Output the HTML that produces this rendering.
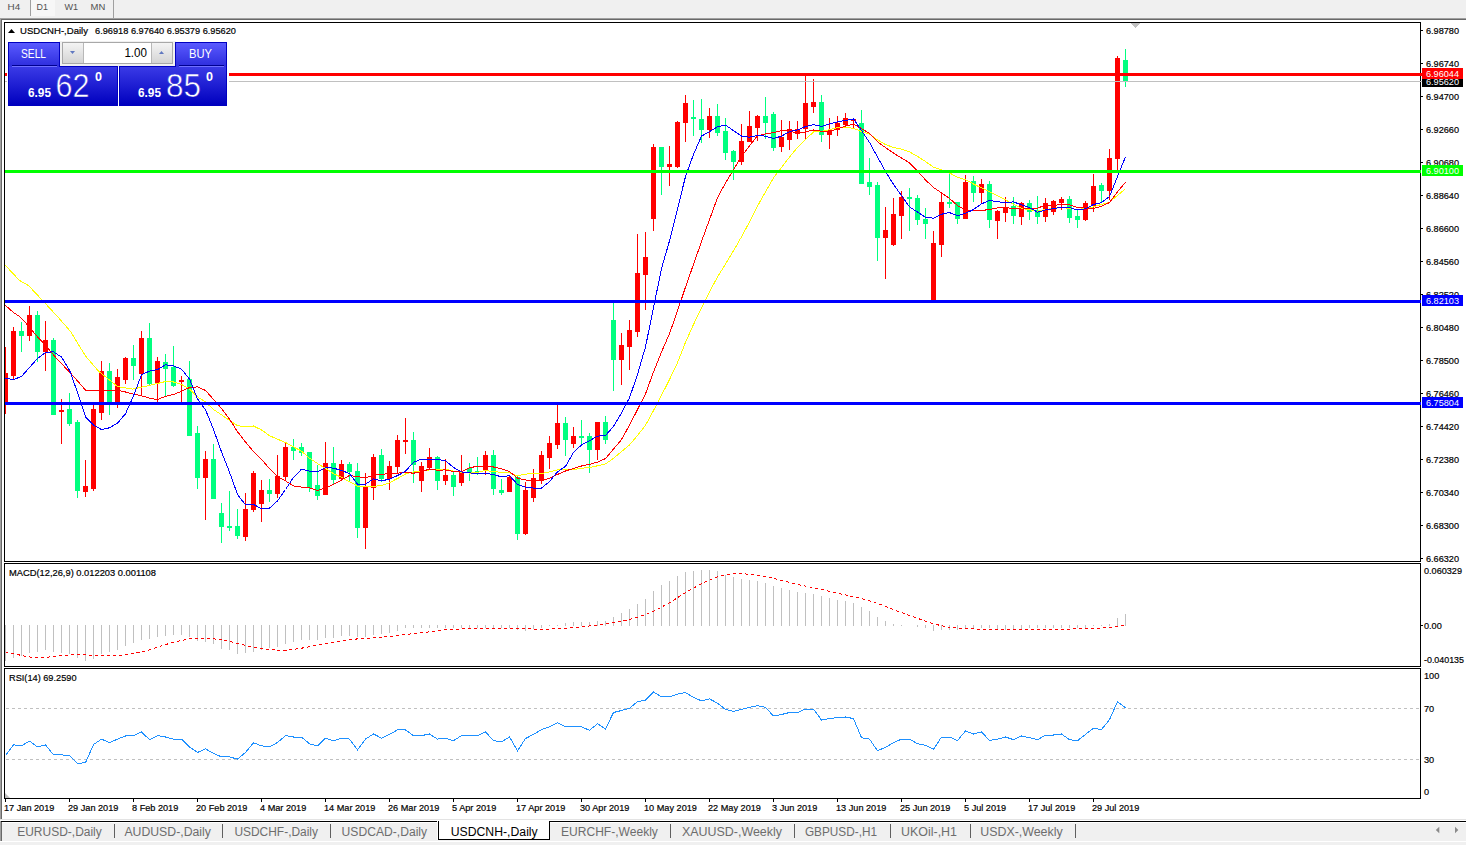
<!DOCTYPE html>
<html><head><meta charset="utf-8"><style>
html,body{margin:0;padding:0;width:1466px;height:845px;overflow:hidden;background:#F0F0F0}
svg text{font-family:'Liberation Sans', sans-serif}
</style></head><body>
<svg width="1466" height="845" viewBox="0 0 1466 845" style="display:block;font-family:'Liberation Sans', sans-serif">
<rect x="0" y="0" width="1466" height="18" fill="#F0F0F0" />
<rect x="0" y="18" width="1466" height="1" fill="#A0A0A0" />
<rect x="1" y="19" width="1465" height="1" fill="#696969" />
<rect x="0" y="18" width="1" height="801" fill="#A0A0A0" />
<rect x="1" y="19" width="1" height="800" fill="#696969" />
<rect x="2" y="20" width="1464" height="799" fill="#FFFFFF" />
<rect x="30" y="0" width="1" height="16" fill="#A0A0A0" />
<rect x="31" y="0" width="24" height="16" fill="#F7F7F7" />
<rect x="113" y="0" width="1" height="18" fill="#A0A0A0" />
<text x="7.6" y="10" font-size="9.5" fill="#505050" text-anchor="start" font-weight="normal" textLength="12.6" lengthAdjust="spacingAndGlyphs" >H4</text>
<text x="36.6" y="10" font-size="9.5" fill="#505050" text-anchor="start" font-weight="normal" textLength="11.4" lengthAdjust="spacingAndGlyphs" >D1</text>
<text x="64.4" y="10" font-size="9.5" fill="#505050" text-anchor="start" font-weight="normal" textLength="13.6" lengthAdjust="spacingAndGlyphs" >W1</text>
<text x="90.6" y="10" font-size="9.5" fill="#505050" text-anchor="start" font-weight="normal" textLength="14.7" lengthAdjust="spacingAndGlyphs" >MN</text>
<rect x="4" y="22" width="1417" height="1" fill="#000" />
<rect x="4" y="561" width="1417" height="1" fill="#000" />
<rect x="4" y="22" width="1" height="540" fill="#000" />
<rect x="1420" y="22" width="1" height="540" fill="#000" />
<rect x="4" y="563" width="1417" height="1" fill="#000" />
<rect x="4" y="666" width="1417" height="1" fill="#000" />
<rect x="4" y="563" width="1" height="104" fill="#000" />
<rect x="1420" y="563" width="1" height="104" fill="#000" />
<rect x="4" y="668" width="1417" height="1" fill="#000" />
<rect x="4" y="798" width="1417" height="1" fill="#000" />
<rect x="4" y="668" width="1" height="131" fill="#000" />
<rect x="1420" y="668" width="1" height="131" fill="#000" />
<g shape-rendering="crispEdges">
<rect x="1421" y="30" width="2" height="1" fill="#000" />
<rect x="1421" y="63" width="2" height="1" fill="#000" />
<rect x="1421" y="96" width="2" height="1" fill="#000" />
<rect x="1421" y="129" width="2" height="1" fill="#000" />
<rect x="1421" y="162" width="2" height="1" fill="#000" />
<rect x="1421" y="195" width="2" height="1" fill="#000" />
<rect x="1421" y="228" width="2" height="1" fill="#000" />
<rect x="1421" y="261" width="2" height="1" fill="#000" />
<rect x="1421" y="294" width="2" height="1" fill="#000" />
<rect x="1421" y="327" width="2" height="1" fill="#000" />
<rect x="1421" y="360" width="2" height="1" fill="#000" />
<rect x="1421" y="393" width="2" height="1" fill="#000" />
<rect x="1421" y="426" width="2" height="1" fill="#000" />
<rect x="1421" y="459" width="2" height="1" fill="#000" />
<rect x="1421" y="492" width="2" height="1" fill="#000" />
<rect x="1421" y="525" width="2" height="1" fill="#000" />
<rect x="1421" y="558" width="2" height="1" fill="#000" />
<text x="1426" y="34" font-size="9.75" fill="#000" text-anchor="start" font-weight="normal" textLength="33" lengthAdjust="spacingAndGlyphs"  stroke="#000" stroke-width="0.2">6.98780</text>
<text x="1426" y="67" font-size="9.75" fill="#000" text-anchor="start" font-weight="normal" textLength="33" lengthAdjust="spacingAndGlyphs"  stroke="#000" stroke-width="0.2">6.96740</text>
<text x="1426" y="100" font-size="9.75" fill="#000" text-anchor="start" font-weight="normal" textLength="33" lengthAdjust="spacingAndGlyphs"  stroke="#000" stroke-width="0.2">6.94700</text>
<text x="1426" y="133" font-size="9.75" fill="#000" text-anchor="start" font-weight="normal" textLength="33" lengthAdjust="spacingAndGlyphs"  stroke="#000" stroke-width="0.2">6.92660</text>
<text x="1426" y="166" font-size="9.75" fill="#000" text-anchor="start" font-weight="normal" textLength="33" lengthAdjust="spacingAndGlyphs"  stroke="#000" stroke-width="0.2">6.90680</text>
<text x="1426" y="199" font-size="9.75" fill="#000" text-anchor="start" font-weight="normal" textLength="33" lengthAdjust="spacingAndGlyphs"  stroke="#000" stroke-width="0.2">6.88640</text>
<text x="1426" y="232" font-size="9.75" fill="#000" text-anchor="start" font-weight="normal" textLength="33" lengthAdjust="spacingAndGlyphs"  stroke="#000" stroke-width="0.2">6.86600</text>
<text x="1426" y="265" font-size="9.75" fill="#000" text-anchor="start" font-weight="normal" textLength="33" lengthAdjust="spacingAndGlyphs"  stroke="#000" stroke-width="0.2">6.84560</text>
<text x="1426" y="298" font-size="9.75" fill="#000" text-anchor="start" font-weight="normal" textLength="33" lengthAdjust="spacingAndGlyphs"  stroke="#000" stroke-width="0.2">6.82520</text>
<text x="1426" y="331" font-size="9.75" fill="#000" text-anchor="start" font-weight="normal" textLength="33" lengthAdjust="spacingAndGlyphs"  stroke="#000" stroke-width="0.2">6.80480</text>
<text x="1426" y="364" font-size="9.75" fill="#000" text-anchor="start" font-weight="normal" textLength="33" lengthAdjust="spacingAndGlyphs"  stroke="#000" stroke-width="0.2">6.78500</text>
<text x="1426" y="397" font-size="9.75" fill="#000" text-anchor="start" font-weight="normal" textLength="33" lengthAdjust="spacingAndGlyphs"  stroke="#000" stroke-width="0.2">6.76460</text>
<text x="1426" y="430" font-size="9.75" fill="#000" text-anchor="start" font-weight="normal" textLength="33" lengthAdjust="spacingAndGlyphs"  stroke="#000" stroke-width="0.2">6.74420</text>
<text x="1426" y="463" font-size="9.75" fill="#000" text-anchor="start" font-weight="normal" textLength="33" lengthAdjust="spacingAndGlyphs"  stroke="#000" stroke-width="0.2">6.72380</text>
<text x="1426" y="496" font-size="9.75" fill="#000" text-anchor="start" font-weight="normal" textLength="33" lengthAdjust="spacingAndGlyphs"  stroke="#000" stroke-width="0.2">6.70340</text>
<text x="1426" y="529" font-size="9.75" fill="#000" text-anchor="start" font-weight="normal" textLength="33" lengthAdjust="spacingAndGlyphs"  stroke="#000" stroke-width="0.2">6.68300</text>
<text x="1426" y="562" font-size="9.75" fill="#000" text-anchor="start" font-weight="normal" textLength="33" lengthAdjust="spacingAndGlyphs"  stroke="#000" stroke-width="0.2">6.66320</text>
<rect x="5" y="347" width="1" height="67" fill="#FF0000" />
<rect x="5" y="373" width="3" height="30" fill="#FF0000" />
<rect x="13" y="327" width="1" height="52" fill="#FF0000" />
<rect x="11" y="331" width="5" height="45" fill="#FF0000" />
<rect x="21" y="322" width="1" height="30" fill="#00FF7F" />
<rect x="19" y="331" width="5" height="5" fill="#00FF7F" />
<rect x="29" y="306" width="1" height="35" fill="#FF0000" />
<rect x="27" y="315" width="5" height="21" fill="#FF0000" />
<rect x="37" y="311" width="1" height="51" fill="#00FF7F" />
<rect x="35" y="315" width="5" height="37" fill="#00FF7F" />
<rect x="45" y="321" width="1" height="50" fill="#FF0000" />
<rect x="43" y="340" width="5" height="12" fill="#FF0000" />
<rect x="53" y="338" width="1" height="77" fill="#00FF7F" />
<rect x="51" y="340" width="5" height="75" fill="#00FF7F" />
<rect x="61" y="399" width="1" height="45" fill="#FF0000" />
<rect x="59" y="410" width="5" height="2" fill="#FF0000" />
<rect x="69" y="393" width="1" height="33" fill="#00FF7F" />
<rect x="67" y="409" width="5" height="15" fill="#00FF7F" />
<rect x="77" y="420" width="1" height="78" fill="#00FF7F" />
<rect x="75" y="422" width="5" height="69" fill="#00FF7F" />
<rect x="85" y="460" width="1" height="37" fill="#FF0000" />
<rect x="83" y="486" width="5" height="6" fill="#FF0000" />
<rect x="93" y="404" width="1" height="87" fill="#FF0000" />
<rect x="91" y="409" width="5" height="80" fill="#FF0000" />
<rect x="101" y="361" width="1" height="59" fill="#FF0000" />
<rect x="99" y="371" width="5" height="42" fill="#FF0000" />
<rect x="109" y="363" width="1" height="52" fill="#00FF7F" />
<rect x="107" y="371" width="5" height="32" fill="#00FF7F" />
<rect x="117" y="369" width="1" height="39" fill="#FF0000" />
<rect x="115" y="377" width="5" height="26" fill="#FF0000" />
<rect x="125" y="357" width="1" height="27" fill="#FF0000" />
<rect x="123" y="358" width="5" height="22" fill="#FF0000" />
<rect x="133" y="345" width="1" height="35" fill="#00FF7F" />
<rect x="131" y="358" width="5" height="8" fill="#00FF7F" />
<rect x="141" y="331" width="1" height="65" fill="#FF0000" />
<rect x="139" y="338" width="5" height="36" fill="#FF0000" />
<rect x="149" y="323" width="1" height="62" fill="#00FF7F" />
<rect x="147" y="338" width="5" height="46" fill="#00FF7F" />
<rect x="157" y="357" width="1" height="45" fill="#FF0000" />
<rect x="155" y="361" width="5" height="23" fill="#FF0000" />
<rect x="165" y="354" width="1" height="42" fill="#00FF7F" />
<rect x="163" y="362" width="5" height="7" fill="#00FF7F" />
<rect x="173" y="346" width="1" height="41" fill="#00FF7F" />
<rect x="171" y="367" width="5" height="19" fill="#00FF7F" />
<rect x="181" y="376" width="1" height="27" fill="#FF0000" />
<rect x="179" y="380" width="5" height="2" fill="#FF0000" />
<rect x="189" y="361" width="1" height="75" fill="#00FF7F" />
<rect x="187" y="379" width="5" height="57" fill="#00FF7F" />
<rect x="197" y="426" width="1" height="63" fill="#00FF7F" />
<rect x="195" y="433" width="5" height="45" fill="#00FF7F" />
<rect x="205" y="451" width="1" height="69" fill="#FF0000" />
<rect x="203" y="459" width="5" height="19" fill="#FF0000" />
<rect x="213" y="444" width="1" height="55" fill="#00FF7F" />
<rect x="211" y="459" width="5" height="40" fill="#00FF7F" />
<rect x="221" y="503" width="1" height="40" fill="#00FF7F" />
<rect x="219" y="513" width="5" height="14" fill="#00FF7F" />
<rect x="229" y="491" width="1" height="40" fill="#00FF7F" />
<rect x="227" y="526" width="5" height="2" fill="#00FF7F" />
<rect x="237" y="509" width="1" height="30" fill="#00FF7F" />
<rect x="235" y="526" width="5" height="10" fill="#00FF7F" />
<rect x="245" y="493" width="1" height="48" fill="#FF0000" />
<rect x="243" y="509" width="5" height="28" fill="#FF0000" />
<rect x="253" y="471" width="1" height="41" fill="#FF0000" />
<rect x="251" y="473" width="5" height="37" fill="#FF0000" />
<rect x="261" y="480" width="1" height="42" fill="#FF0000" />
<rect x="259" y="490" width="5" height="14" fill="#FF0000" />
<rect x="269" y="479" width="1" height="23" fill="#00FF7F" />
<rect x="267" y="490" width="5" height="4" fill="#00FF7F" />
<rect x="277" y="455" width="1" height="43" fill="#FF0000" />
<rect x="275" y="476" width="5" height="18" fill="#FF0000" />
<rect x="285" y="443" width="1" height="38" fill="#FF0000" />
<rect x="283" y="447" width="5" height="30" fill="#FF0000" />
<rect x="293" y="439" width="1" height="21" fill="#00FF7F" />
<rect x="291" y="447" width="5" height="4" fill="#00FF7F" />
<rect x="301" y="443" width="1" height="13" fill="#00FF7F" />
<rect x="299" y="447" width="5" height="6" fill="#00FF7F" />
<rect x="309" y="452" width="1" height="40" fill="#00FF7F" />
<rect x="307" y="452" width="5" height="36" fill="#00FF7F" />
<rect x="317" y="465" width="1" height="35" fill="#00FF7F" />
<rect x="315" y="485" width="5" height="11" fill="#00FF7F" />
<rect x="325" y="442" width="1" height="53" fill="#FF0000" />
<rect x="323" y="463" width="5" height="32" fill="#FF0000" />
<rect x="333" y="447" width="1" height="37" fill="#00FF7F" />
<rect x="331" y="463" width="5" height="17" fill="#00FF7F" />
<rect x="341" y="460" width="1" height="21" fill="#FF0000" />
<rect x="339" y="464" width="5" height="15" fill="#FF0000" />
<rect x="349" y="462" width="1" height="19" fill="#00FF7F" />
<rect x="347" y="464" width="5" height="8" fill="#00FF7F" />
<rect x="357" y="463" width="1" height="75" fill="#00FF7F" />
<rect x="355" y="471" width="5" height="57" fill="#00FF7F" />
<rect x="365" y="473" width="1" height="76" fill="#FF0000" />
<rect x="363" y="487" width="5" height="41" fill="#FF0000" />
<rect x="373" y="454" width="1" height="46" fill="#FF0000" />
<rect x="371" y="457" width="5" height="31" fill="#FF0000" />
<rect x="381" y="449" width="1" height="33" fill="#00FF7F" />
<rect x="379" y="455" width="5" height="24" fill="#00FF7F" />
<rect x="389" y="461" width="1" height="29" fill="#FF0000" />
<rect x="387" y="466" width="5" height="13" fill="#FF0000" />
<rect x="397" y="435" width="1" height="39" fill="#FF0000" />
<rect x="395" y="440" width="5" height="27" fill="#FF0000" />
<rect x="405" y="418" width="1" height="36" fill="#FF0000" />
<rect x="403" y="440" width="5" height="2" fill="#FF0000" />
<rect x="413" y="432" width="1" height="51" fill="#00FF7F" />
<rect x="411" y="440" width="5" height="25" fill="#00FF7F" />
<rect x="421" y="462" width="1" height="30" fill="#FF0000" />
<rect x="419" y="466" width="5" height="15" fill="#FF0000" />
<rect x="429" y="448" width="1" height="21" fill="#FF0000" />
<rect x="427" y="457" width="5" height="11" fill="#FF0000" />
<rect x="437" y="456" width="1" height="34" fill="#00FF7F" />
<rect x="435" y="457" width="5" height="24" fill="#00FF7F" />
<rect x="445" y="459" width="1" height="26" fill="#FF0000" />
<rect x="443" y="475" width="5" height="6" fill="#FF0000" />
<rect x="453" y="472" width="1" height="24" fill="#00FF7F" />
<rect x="451" y="475" width="5" height="12" fill="#00FF7F" />
<rect x="461" y="455" width="1" height="31" fill="#FF0000" />
<rect x="459" y="472" width="5" height="11" fill="#FF0000" />
<rect x="469" y="463" width="1" height="18" fill="#00FF7F" />
<rect x="467" y="468" width="5" height="4" fill="#00FF7F" />
<rect x="477" y="457" width="1" height="18" fill="#00FF7F" />
<rect x="475" y="471" width="5" height="1" fill="#00FF7F" />
<rect x="485" y="451" width="1" height="24" fill="#FF0000" />
<rect x="483" y="455" width="5" height="16" fill="#FF0000" />
<rect x="493" y="450" width="1" height="45" fill="#00FF7F" />
<rect x="491" y="455" width="5" height="34" fill="#00FF7F" />
<rect x="501" y="479" width="1" height="16" fill="#00FF7F" />
<rect x="499" y="490" width="5" height="3" fill="#00FF7F" />
<rect x="509" y="476" width="1" height="16" fill="#FF0000" />
<rect x="507" y="477" width="5" height="15" fill="#FF0000" />
<rect x="517" y="476" width="1" height="64" fill="#00FF7F" />
<rect x="515" y="477" width="5" height="57" fill="#00FF7F" />
<rect x="525" y="482" width="1" height="53" fill="#FF0000" />
<rect x="523" y="490" width="5" height="44" fill="#FF0000" />
<rect x="533" y="469" width="1" height="33" fill="#FF0000" />
<rect x="531" y="478" width="5" height="20" fill="#FF0000" />
<rect x="541" y="451" width="1" height="33" fill="#FF0000" />
<rect x="539" y="455" width="5" height="25" fill="#FF0000" />
<rect x="549" y="436" width="1" height="33" fill="#FF0000" />
<rect x="547" y="443" width="5" height="15" fill="#FF0000" />
<rect x="557" y="405" width="1" height="44" fill="#FF0000" />
<rect x="555" y="423" width="5" height="22" fill="#FF0000" />
<rect x="565" y="417" width="1" height="39" fill="#00FF7F" />
<rect x="563" y="423" width="5" height="17" fill="#00FF7F" />
<rect x="573" y="427" width="1" height="21" fill="#FF0000" />
<rect x="571" y="436" width="5" height="8" fill="#FF0000" />
<rect x="581" y="420" width="1" height="24" fill="#00FF7F" />
<rect x="579" y="436" width="5" height="2" fill="#00FF7F" />
<rect x="589" y="433" width="1" height="40" fill="#00FF7F" />
<rect x="587" y="436" width="5" height="14" fill="#00FF7F" />
<rect x="597" y="422" width="1" height="38" fill="#FF0000" />
<rect x="595" y="422" width="5" height="28" fill="#FF0000" />
<rect x="605" y="416" width="1" height="28" fill="#00FF7F" />
<rect x="603" y="422" width="5" height="18" fill="#00FF7F" />
<rect x="613" y="302" width="1" height="89" fill="#00FF7F" />
<rect x="611" y="320" width="5" height="40" fill="#00FF7F" />
<rect x="621" y="333" width="1" height="52" fill="#FF0000" />
<rect x="619" y="345" width="5" height="15" fill="#FF0000" />
<rect x="629" y="320" width="1" height="50" fill="#FF0000" />
<rect x="627" y="330" width="5" height="17" fill="#FF0000" />
<rect x="637" y="234" width="1" height="103" fill="#FF0000" />
<rect x="635" y="273" width="5" height="59" fill="#FF0000" />
<rect x="645" y="232" width="1" height="78" fill="#FF0000" />
<rect x="643" y="257" width="5" height="18" fill="#FF0000" />
<rect x="653" y="144" width="1" height="87" fill="#FF0000" />
<rect x="651" y="147" width="5" height="72" fill="#FF0000" />
<rect x="661" y="147" width="1" height="48" fill="#00FF7F" />
<rect x="659" y="147" width="5" height="20" fill="#00FF7F" />
<rect x="669" y="146" width="1" height="40" fill="#FF0000" />
<rect x="667" y="164" width="5" height="3" fill="#FF0000" />
<rect x="677" y="121" width="1" height="47" fill="#FF0000" />
<rect x="675" y="122" width="5" height="45" fill="#FF0000" />
<rect x="685" y="95" width="1" height="47" fill="#FF0000" />
<rect x="683" y="103" width="5" height="20" fill="#FF0000" />
<rect x="693" y="100" width="1" height="36" fill="#00FF7F" />
<rect x="691" y="117" width="5" height="2" fill="#00FF7F" />
<rect x="701" y="99" width="1" height="44" fill="#00FF7F" />
<rect x="699" y="119" width="5" height="11" fill="#00FF7F" />
<rect x="709" y="108" width="1" height="30" fill="#FF0000" />
<rect x="707" y="116" width="5" height="14" fill="#FF0000" />
<rect x="717" y="104" width="1" height="32" fill="#00FF7F" />
<rect x="715" y="116" width="5" height="17" fill="#00FF7F" />
<rect x="725" y="118" width="1" height="42" fill="#00FF7F" />
<rect x="723" y="131" width="5" height="22" fill="#00FF7F" />
<rect x="733" y="150" width="1" height="30" fill="#00FF7F" />
<rect x="731" y="151" width="5" height="11" fill="#00FF7F" />
<rect x="741" y="124" width="1" height="41" fill="#FF0000" />
<rect x="739" y="141" width="5" height="21" fill="#FF0000" />
<rect x="749" y="111" width="1" height="31" fill="#FF0000" />
<rect x="747" y="126" width="5" height="16" fill="#FF0000" />
<rect x="757" y="115" width="1" height="26" fill="#FF0000" />
<rect x="755" y="116" width="5" height="12" fill="#FF0000" />
<rect x="765" y="97" width="1" height="42" fill="#00FF7F" />
<rect x="763" y="116" width="5" height="7" fill="#00FF7F" />
<rect x="773" y="112" width="1" height="39" fill="#00FF7F" />
<rect x="771" y="114" width="5" height="34" fill="#00FF7F" />
<rect x="781" y="120" width="1" height="32" fill="#FF0000" />
<rect x="779" y="137" width="5" height="10" fill="#FF0000" />
<rect x="789" y="121" width="1" height="29" fill="#FF0000" />
<rect x="787" y="129" width="5" height="11" fill="#FF0000" />
<rect x="797" y="121" width="1" height="18" fill="#FF0000" />
<rect x="795" y="129" width="5" height="5" fill="#FF0000" />
<rect x="805" y="76" width="1" height="64" fill="#FF0000" />
<rect x="803" y="103" width="5" height="26" fill="#FF0000" />
<rect x="813" y="79" width="1" height="34" fill="#FF0000" />
<rect x="811" y="102" width="5" height="5" fill="#FF0000" />
<rect x="821" y="95" width="1" height="47" fill="#00FF7F" />
<rect x="819" y="102" width="5" height="33" fill="#00FF7F" />
<rect x="829" y="118" width="1" height="31" fill="#FF0000" />
<rect x="827" y="130" width="5" height="5" fill="#FF0000" />
<rect x="837" y="116" width="1" height="20" fill="#FF0000" />
<rect x="835" y="123" width="5" height="7" fill="#FF0000" />
<rect x="845" y="113" width="1" height="14" fill="#FF0000" />
<rect x="843" y="118" width="5" height="7" fill="#FF0000" />
<rect x="853" y="118" width="1" height="11" fill="#FF0000" />
<rect x="851" y="119" width="5" height="2" fill="#FF0000" />
<rect x="861" y="110" width="1" height="74" fill="#00FF7F" />
<rect x="859" y="123" width="5" height="61" fill="#00FF7F" />
<rect x="869" y="158" width="1" height="37" fill="#00FF7F" />
<rect x="867" y="182" width="5" height="5" fill="#00FF7F" />
<rect x="877" y="182" width="1" height="79" fill="#00FF7F" />
<rect x="875" y="185" width="5" height="53" fill="#00FF7F" />
<rect x="885" y="207" width="1" height="72" fill="#FF0000" />
<rect x="883" y="230" width="5" height="8" fill="#FF0000" />
<rect x="893" y="198" width="1" height="48" fill="#FF0000" />
<rect x="891" y="214" width="5" height="31" fill="#FF0000" />
<rect x="901" y="191" width="1" height="48" fill="#FF0000" />
<rect x="899" y="197" width="5" height="19" fill="#FF0000" />
<rect x="909" y="188" width="1" height="43" fill="#00FF7F" />
<rect x="907" y="197" width="5" height="2" fill="#00FF7F" />
<rect x="917" y="195" width="1" height="30" fill="#00FF7F" />
<rect x="915" y="198" width="5" height="22" fill="#00FF7F" />
<rect x="925" y="208" width="1" height="31" fill="#00FF7F" />
<rect x="923" y="219" width="5" height="5" fill="#00FF7F" />
<rect x="933" y="231" width="1" height="70" fill="#FF0000" />
<rect x="931" y="243" width="5" height="58" fill="#FF0000" />
<rect x="941" y="193" width="1" height="64" fill="#FF0000" />
<rect x="939" y="202" width="5" height="43" fill="#FF0000" />
<rect x="949" y="174" width="1" height="34" fill="#00FF7F" />
<rect x="947" y="202" width="5" height="2" fill="#00FF7F" />
<rect x="957" y="202" width="1" height="22" fill="#00FF7F" />
<rect x="955" y="202" width="5" height="17" fill="#00FF7F" />
<rect x="965" y="175" width="1" height="44" fill="#FF0000" />
<rect x="963" y="182" width="5" height="37" fill="#FF0000" />
<rect x="973" y="176" width="1" height="26" fill="#00FF7F" />
<rect x="971" y="181" width="5" height="12" fill="#00FF7F" />
<rect x="981" y="179" width="1" height="25" fill="#FF0000" />
<rect x="979" y="184" width="5" height="9" fill="#FF0000" />
<rect x="989" y="181" width="1" height="47" fill="#00FF7F" />
<rect x="987" y="184" width="5" height="36" fill="#00FF7F" />
<rect x="997" y="210" width="1" height="29" fill="#FF0000" />
<rect x="995" y="211" width="5" height="10" fill="#FF0000" />
<rect x="1005" y="197" width="1" height="25" fill="#FF0000" />
<rect x="1003" y="207" width="5" height="6" fill="#FF0000" />
<rect x="1013" y="197" width="1" height="27" fill="#00FF7F" />
<rect x="1011" y="206" width="5" height="10" fill="#00FF7F" />
<rect x="1021" y="202" width="1" height="23" fill="#FF0000" />
<rect x="1019" y="203" width="5" height="14" fill="#FF0000" />
<rect x="1029" y="200" width="1" height="20" fill="#00FF7F" />
<rect x="1027" y="203" width="5" height="9" fill="#00FF7F" />
<rect x="1037" y="196" width="1" height="28" fill="#00FF7F" />
<rect x="1035" y="210" width="5" height="7" fill="#00FF7F" />
<rect x="1045" y="198" width="1" height="24" fill="#FF0000" />
<rect x="1043" y="203" width="5" height="14" fill="#FF0000" />
<rect x="1053" y="200" width="1" height="15" fill="#FF0000" />
<rect x="1051" y="201" width="5" height="11" fill="#FF0000" />
<rect x="1061" y="197" width="1" height="13" fill="#FF0000" />
<rect x="1059" y="199" width="5" height="4" fill="#FF0000" />
<rect x="1069" y="196" width="1" height="27" fill="#00FF7F" />
<rect x="1067" y="199" width="5" height="19" fill="#00FF7F" />
<rect x="1077" y="209" width="1" height="19" fill="#00FF7F" />
<rect x="1075" y="216" width="5" height="4" fill="#00FF7F" />
<rect x="1085" y="201" width="1" height="20" fill="#FF0000" />
<rect x="1083" y="203" width="5" height="17" fill="#FF0000" />
<rect x="1093" y="174" width="1" height="38" fill="#FF0000" />
<rect x="1091" y="186" width="5" height="20" fill="#FF0000" />
<rect x="1101" y="183" width="1" height="20" fill="#00FF7F" />
<rect x="1099" y="185" width="5" height="6" fill="#00FF7F" />
<rect x="1109" y="149" width="1" height="51" fill="#FF0000" />
<rect x="1107" y="158" width="5" height="33" fill="#FF0000" />
<rect x="1117" y="56" width="1" height="115" fill="#FF0000" />
<rect x="1115" y="58" width="5" height="101" fill="#FF0000" />
<rect x="1125" y="49" width="1" height="38" fill="#00FF7F" />
<rect x="1123" y="60" width="5" height="22" fill="#00FF7F" />
</g>
<svg x="5" y="23" width="1415" height="538" overflow="hidden"><g transform="translate(-5,-23)">
<polyline points="5.5,265.5 19.5,280.5 28.5,285.5 42.5,300.5 57.5,316.5 70.5,331.5 85.5,356.0 98.5,371.1 117.5,386.5 132.5,389.1 144.5,386.5 157.5,383.5 165.5,381.5 173.5,382.0 181.5,384.4 189.5,389.1 197.5,396.8 205.5,402.0 213.5,409.5 221.5,414.8 229.5,420.4 237.5,425.7 245.5,426.6 253.5,426.0 261.5,429.9 269.5,435.7 277.5,439.2 285.5,442.5 293.5,446.9 301.5,451.1 309.5,458.2 317.5,463.5 325.5,468.4 333.5,473.6 341.5,477.4 349.5,481.7 357.5,486.1 365.5,486.6 373.5,486.5 381.5,485.5 389.5,482.7 397.5,478.5 405.5,474.0 413.5,471.9 421.5,471.5 429.5,470.0 437.5,469.4 445.5,469.3 453.5,471.2 461.5,472.2 469.5,473.1 477.5,472.4 485.5,470.5 493.5,471.6 501.5,472.3 509.5,472.9 517.5,475.8 525.5,474.1 533.5,473.6 541.5,473.5 549.5,471.9 557.5,469.8 565.5,469.8 573.5,469.6 581.5,468.3 589.5,467.5 597.5,465.8 605.5,463.9 613.5,458.4 621.5,451.6 629.5,444.9 637.5,435.5 645.5,425.3 653.5,410.6 661.5,395.3 669.5,379.6 677.5,362.7 685.5,342.3 693.5,324.5 701.5,307.9 709.5,291.8 717.5,277.0 725.5,264.1 733.5,250.8 741.5,236.8 749.5,222.0 757.5,206.1 765.5,191.8 773.5,177.9 781.5,167.4 789.5,157.1 797.5,147.5 805.5,139.4 813.5,132.0 821.5,131.4 829.5,129.7 837.5,127.7 845.5,127.5 853.5,128.3 861.5,131.4 869.5,134.1 877.5,139.9 885.5,144.5 893.5,147.5 901.5,149.2 909.5,151.9 917.5,156.4 925.5,161.5 933.5,167.2 941.5,169.8 949.5,173.0 957.5,177.2 965.5,179.7 973.5,184.0 981.5,187.9 989.5,191.9 997.5,195.8 1005.5,199.8 1013.5,204.4 1021.5,208.4 1029.5,209.7 1037.5,211.2 1045.5,209.5 1053.5,208.2 1061.5,207.5 1069.5,208.4 1077.5,209.4 1085.5,208.6 1093.5,206.9 1101.5,204.4 1109.5,202.3 1117.5,195.4 1125.5,188.8" fill="none" stroke="#FFFF00" stroke-width="1" shape-rendering="crispEdges"/>
<polyline points="5.5,305.5 13.5,312.5 19.5,316.5 25.5,322.5 34.5,333.5 45.5,345.5 57.5,359.5 70.5,373.0 85.5,390.0 98.5,390.0 117.5,390.1 125.5,392.0 133.5,394.1 141.5,395.8 149.5,398.1 157.5,399.6 165.5,396.3 173.5,394.5 181.5,391.4 189.5,387.5 197.5,386.9 205.5,390.4 213.5,399.5 221.5,408.4 229.5,419.1 237.5,431.7 245.5,442.0 253.5,451.6 261.5,459.3 269.5,468.7 277.5,476.4 285.5,480.9 293.5,485.9 301.5,487.1 309.5,487.8 317.5,490.4 325.5,487.9 333.5,484.5 341.5,480.0 349.5,475.4 357.5,476.7 365.5,477.7 373.5,475.4 381.5,474.3 389.5,473.6 397.5,473.1 405.5,472.4 413.5,473.2 421.5,471.7 429.5,469.0 437.5,470.2 445.5,469.9 453.5,471.5 461.5,471.6 469.5,467.6 477.5,466.4 485.5,466.3 493.5,467.0 501.5,468.9 509.5,471.5 517.5,478.1 525.5,480.0 533.5,480.9 541.5,480.7 549.5,478.1 557.5,474.4 565.5,471.0 573.5,468.4 581.5,466.0 589.5,464.4 597.5,462.1 605.5,458.6 613.5,449.1 621.5,439.6 629.5,425.1 637.5,409.6 645.5,393.9 653.5,371.9 661.5,352.1 669.5,333.6 677.5,310.9 685.5,287.1 693.5,264.4 701.5,241.5 709.5,219.6 717.5,197.7 725.5,182.9 733.5,169.8 741.5,156.3 749.5,145.8 757.5,135.7 765.5,133.9 773.5,132.6 781.5,130.6 789.5,131.1 797.5,133.0 805.5,131.9 813.5,130.0 821.5,131.3 829.5,131.1 837.5,129.1 845.5,126.0 853.5,124.4 861.5,128.5 869.5,133.5 877.5,141.7 885.5,147.6 893.5,153.1 901.5,158.0 909.5,162.9 917.5,171.2 925.5,179.9 933.5,187.6 941.5,192.8 949.5,198.5 957.5,205.6 965.5,210.1 973.5,210.8 981.5,210.6 989.5,209.4 997.5,208.0 1005.5,207.5 1013.5,208.8 1021.5,209.1 1029.5,208.6 1037.5,208.1 1045.5,205.2 1053.5,205.1 1061.5,204.9 1069.5,204.8 1077.5,207.4 1085.5,208.2 1093.5,208.4 1101.5,206.3 1109.5,202.5 1117.5,191.9 1125.5,182.3" fill="none" stroke="#FF0000" stroke-width="1" shape-rendering="crispEdges"/>
<polyline points="5.5,378.5 13.5,379.5 21.5,376.5 29.5,367.5 37.5,358.5 45.5,352.5 53.5,351.8 61.5,357.1 69.5,370.2 77.5,392.4 85.5,416.8 93.5,425.1 101.5,429.5 109.5,427.8 117.5,423.1 125.5,413.8 133.5,395.9 141.5,374.8 149.5,371.1 157.5,369.6 165.5,364.8 173.5,365.9 181.5,369.1 189.5,379.1 197.5,398.9 205.5,409.8 213.5,429.4 221.5,451.9 229.5,472.2 237.5,494.4 245.5,504.9 253.5,504.4 261.5,508.8 269.5,508.1 277.5,500.9 285.5,489.5 293.5,477.4 301.5,469.2 309.5,471.2 317.5,471.9 325.5,467.6 333.5,468.1 341.5,470.5 349.5,473.5 357.5,484.2 365.5,484.2 373.5,478.8 381.5,480.9 389.5,479.1 397.5,475.6 405.5,471.2 413.5,462.2 421.5,459.2 429.5,459.2 437.5,459.5 445.5,460.8 453.5,467.4 461.5,471.9 469.5,472.9 477.5,473.6 485.5,473.4 493.5,474.5 501.5,476.9 509.5,475.6 517.5,484.4 525.5,487.1 533.5,488.1 541.5,488.1 549.5,481.6 557.5,471.8 565.5,466.4 573.5,452.5 581.5,444.9 589.5,440.8 597.5,436.1 605.5,435.5 613.5,426.4 621.5,412.9 629.5,397.8 637.5,374.4 645.5,346.9 653.5,307.6 661.5,268.6 669.5,240.8 677.5,208.9 685.5,176.5 693.5,154.4 701.5,136.1 709.5,131.6 717.5,126.8 725.5,125.1 733.5,130.6 741.5,136.1 749.5,137.2 757.5,135.4 765.5,136.2 773.5,138.4 781.5,136.2 789.5,131.6 797.5,129.9 805.5,126.6 813.5,124.6 821.5,126.4 829.5,123.9 837.5,121.9 845.5,120.4 853.5,118.9 861.5,130.4 869.5,142.4 877.5,157.1 885.5,171.4 893.5,184.4 901.5,195.6 909.5,206.9 917.5,212.1 925.5,217.4 933.5,218.2 941.5,214.2 949.5,212.6 957.5,215.6 965.5,213.4 973.5,209.5 981.5,203.9 989.5,200.5 997.5,201.8 1005.5,202.4 1013.5,201.9 1021.5,204.9 1029.5,207.6 1037.5,212.2 1045.5,209.9 1053.5,208.5 1061.5,207.4 1069.5,207.6 1077.5,209.9 1085.5,208.8 1093.5,204.5 1101.5,202.6 1109.5,196.5 1117.5,176.4 1125.5,156.9" fill="none" stroke="#0000FF" stroke-width="1" shape-rendering="crispEdges"/>
</g></svg>
<g shape-rendering="crispEdges">
<rect x="5" y="81" width="1417" height="1" fill="#C0C0C0" />
<rect x="5" y="73" width="1417" height="3" fill="#FF0000" />
<rect x="5" y="170" width="1416" height="3" fill="#00FF00" />
<rect x="5" y="300" width="1416" height="3" fill="#0000FF" />
<rect x="5" y="402" width="1416" height="3" fill="#0000FF" />
<rect x="1422" y="76" width="41" height="11" fill="#000" />
<text x="1426" y="85" font-size="9.75" fill="#FFF" text-anchor="start" font-weight="normal" textLength="33" lengthAdjust="spacingAndGlyphs" >6.95620</text>
<rect x="1422" y="68" width="41" height="11" fill="#FF0000" />
<text x="1426" y="77" font-size="9.75" fill="#FFF" text-anchor="start" font-weight="normal" textLength="33" lengthAdjust="spacingAndGlyphs" >6.96044</text>
<rect x="1422" y="165" width="41" height="11" fill="#00FF00" />
<text x="1426" y="174" font-size="9.75" fill="#FFF" text-anchor="start" font-weight="normal" textLength="33" lengthAdjust="spacingAndGlyphs" >6.90100</text>
<rect x="1422" y="295" width="41" height="11" fill="#0000FF" />
<text x="1426" y="304" font-size="9.75" fill="#FFF" text-anchor="start" font-weight="normal" textLength="33" lengthAdjust="spacingAndGlyphs" >6.82103</text>
<rect x="1422" y="397" width="41" height="11" fill="#0000FF" />
<text x="1426" y="406" font-size="9.75" fill="#FFF" text-anchor="start" font-weight="normal" textLength="33" lengthAdjust="spacingAndGlyphs" >6.75804</text>
<polygon points="1131,23 1140,23 1135.5,28" fill="#C0C0C0"/>
</g>
<polygon points="8,33 15,33 11.5,29" fill="#000"/>
<text x="20" y="34" font-size="9.75" fill="#000" text-anchor="start" font-weight="normal" textLength="68" lengthAdjust="spacingAndGlyphs"  stroke="#000" stroke-width="0.2">USDCNH-,Daily</text>
<text x="95" y="34" font-size="9.75" fill="#000" text-anchor="start" font-weight="normal" textLength="141" lengthAdjust="spacingAndGlyphs"  stroke="#000" stroke-width="0.2">6.96918 6.97640 6.95379 6.95620</text>
<g shape-rendering="crispEdges">
<rect x="13" y="625" width="1" height="33" fill="#C0C0C0" />
<rect x="21" y="625" width="1" height="31" fill="#C0C0C0" />
<rect x="29" y="625" width="1" height="28" fill="#C0C0C0" />
<rect x="37" y="625" width="1" height="27" fill="#C0C0C0" />
<rect x="45" y="625" width="1" height="25" fill="#C0C0C0" />
<rect x="53" y="625" width="1" height="27" fill="#C0C0C0" />
<rect x="61" y="625" width="1" height="28" fill="#C0C0C0" />
<rect x="69" y="625" width="1" height="29" fill="#C0C0C0" />
<rect x="77" y="625" width="1" height="33" fill="#C0C0C0" />
<rect x="85" y="625" width="1" height="36" fill="#C0C0C0" />
<rect x="93" y="625" width="1" height="34" fill="#C0C0C0" />
<rect x="101" y="625" width="1" height="29" fill="#C0C0C0" />
<rect x="109" y="625" width="1" height="27" fill="#C0C0C0" />
<rect x="117" y="625" width="1" height="25" fill="#C0C0C0" />
<rect x="125" y="625" width="1" height="21" fill="#C0C0C0" />
<rect x="133" y="625" width="1" height="18" fill="#C0C0C0" />
<rect x="141" y="625" width="1" height="15" fill="#C0C0C0" />
<rect x="149" y="625" width="1" height="14" fill="#C0C0C0" />
<rect x="157" y="625" width="1" height="12" fill="#C0C0C0" />
<rect x="165" y="625" width="1" height="11" fill="#C0C0C0" />
<rect x="173" y="625" width="1" height="10" fill="#C0C0C0" />
<rect x="181" y="625" width="1" height="10" fill="#C0C0C0" />
<rect x="189" y="625" width="1" height="12" fill="#C0C0C0" />
<rect x="197" y="625" width="1" height="16" fill="#C0C0C0" />
<rect x="205" y="625" width="1" height="17" fill="#C0C0C0" />
<rect x="213" y="625" width="1" height="19" fill="#C0C0C0" />
<rect x="221" y="625" width="1" height="24" fill="#C0C0C0" />
<rect x="229" y="625" width="1" height="25" fill="#C0C0C0" />
<rect x="237" y="625" width="1" height="29" fill="#C0C0C0" />
<rect x="245" y="625" width="1" height="28" fill="#C0C0C0" />
<rect x="253" y="625" width="1" height="27" fill="#C0C0C0" />
<rect x="261" y="625" width="1" height="25" fill="#C0C0C0" />
<rect x="269" y="625" width="1" height="23" fill="#C0C0C0" />
<rect x="277" y="625" width="1" height="22" fill="#C0C0C0" />
<rect x="285" y="625" width="1" height="19" fill="#C0C0C0" />
<rect x="293" y="625" width="1" height="17" fill="#C0C0C0" />
<rect x="301" y="625" width="1" height="15" fill="#C0C0C0" />
<rect x="309" y="625" width="1" height="15" fill="#C0C0C0" />
<rect x="317" y="625" width="1" height="15" fill="#C0C0C0" />
<rect x="325" y="625" width="1" height="13" fill="#C0C0C0" />
<rect x="333" y="625" width="1" height="13" fill="#C0C0C0" />
<rect x="341" y="625" width="1" height="11" fill="#C0C0C0" />
<rect x="349" y="625" width="1" height="11" fill="#C0C0C0" />
<rect x="357" y="625" width="1" height="12" fill="#C0C0C0" />
<rect x="365" y="625" width="1" height="12" fill="#C0C0C0" />
<rect x="373" y="625" width="1" height="10" fill="#C0C0C0" />
<rect x="381" y="625" width="1" height="9" fill="#C0C0C0" />
<rect x="389" y="625" width="1" height="8" fill="#C0C0C0" />
<rect x="397" y="625" width="1" height="6" fill="#C0C0C0" />
<rect x="405" y="625" width="1" height="3" fill="#C0C0C0" />
<rect x="413" y="625" width="1" height="3" fill="#C0C0C0" />
<rect x="421" y="625" width="1" height="3" fill="#C0C0C0" />
<rect x="429" y="625" width="1" height="3" fill="#C0C0C0" />
<rect x="437" y="625" width="1" height="3" fill="#C0C0C0" />
<rect x="445" y="625" width="1" height="3" fill="#C0C0C0" />
<rect x="453" y="625" width="1" height="3" fill="#C0C0C0" />
<rect x="461" y="625" width="1" height="3" fill="#C0C0C0" />
<rect x="469" y="625" width="1" height="3" fill="#C0C0C0" />
<rect x="477" y="625" width="1" height="3" fill="#C0C0C0" />
<rect x="485" y="625" width="1" height="3" fill="#C0C0C0" />
<rect x="493" y="625" width="1" height="3" fill="#C0C0C0" />
<rect x="501" y="625" width="1" height="3" fill="#C0C0C0" />
<rect x="509" y="625" width="1" height="3" fill="#C0C0C0" />
<rect x="517" y="625" width="1" height="5" fill="#C0C0C0" />
<rect x="525" y="625" width="1" height="6" fill="#C0C0C0" />
<rect x="533" y="625" width="1" height="4" fill="#C0C0C0" />
<rect x="541" y="625" width="1" height="3" fill="#C0C0C0" />
<rect x="549" y="625" width="1" height="1" fill="#C0C0C0" />
<rect x="557" y="625" width="1" height="1" fill="#C0C0C0" />
<rect x="565" y="623" width="1" height="3" fill="#C0C0C0" />
<rect x="573" y="622" width="1" height="4" fill="#C0C0C0" />
<rect x="581" y="622" width="1" height="4" fill="#C0C0C0" />
<rect x="589" y="622" width="1" height="4" fill="#C0C0C0" />
<rect x="597" y="621" width="1" height="5" fill="#C0C0C0" />
<rect x="605" y="621" width="1" height="5" fill="#C0C0C0" />
<rect x="613" y="617" width="1" height="9" fill="#C0C0C0" />
<rect x="621" y="613" width="1" height="13" fill="#C0C0C0" />
<rect x="629" y="609" width="1" height="17" fill="#C0C0C0" />
<rect x="637" y="604" width="1" height="22" fill="#C0C0C0" />
<rect x="645" y="599" width="1" height="27" fill="#C0C0C0" />
<rect x="653" y="591" width="1" height="35" fill="#C0C0C0" />
<rect x="661" y="585" width="1" height="41" fill="#C0C0C0" />
<rect x="669" y="581" width="1" height="45" fill="#C0C0C0" />
<rect x="677" y="576" width="1" height="50" fill="#C0C0C0" />
<rect x="685" y="572" width="1" height="54" fill="#C0C0C0" />
<rect x="693" y="571" width="1" height="55" fill="#C0C0C0" />
<rect x="701" y="570" width="1" height="56" fill="#C0C0C0" />
<rect x="709" y="570" width="1" height="56" fill="#C0C0C0" />
<rect x="717" y="571" width="1" height="55" fill="#C0C0C0" />
<rect x="725" y="575" width="1" height="51" fill="#C0C0C0" />
<rect x="733" y="577" width="1" height="49" fill="#C0C0C0" />
<rect x="741" y="579" width="1" height="47" fill="#C0C0C0" />
<rect x="749" y="580" width="1" height="46" fill="#C0C0C0" />
<rect x="757" y="581" width="1" height="45" fill="#C0C0C0" />
<rect x="765" y="583" width="1" height="43" fill="#C0C0C0" />
<rect x="773" y="586" width="1" height="40" fill="#C0C0C0" />
<rect x="781" y="588" width="1" height="38" fill="#C0C0C0" />
<rect x="789" y="590" width="1" height="36" fill="#C0C0C0" />
<rect x="797" y="592" width="1" height="34" fill="#C0C0C0" />
<rect x="805" y="593" width="1" height="33" fill="#C0C0C0" />
<rect x="813" y="594" width="1" height="32" fill="#C0C0C0" />
<rect x="821" y="596" width="1" height="30" fill="#C0C0C0" />
<rect x="829" y="598" width="1" height="28" fill="#C0C0C0" />
<rect x="837" y="600" width="1" height="26" fill="#C0C0C0" />
<rect x="845" y="601" width="1" height="25" fill="#C0C0C0" />
<rect x="853" y="603" width="1" height="23" fill="#C0C0C0" />
<rect x="861" y="607" width="1" height="19" fill="#C0C0C0" />
<rect x="869" y="611" width="1" height="15" fill="#C0C0C0" />
<rect x="877" y="617" width="1" height="9" fill="#C0C0C0" />
<rect x="885" y="621" width="1" height="5" fill="#C0C0C0" />
<rect x="893" y="624" width="1" height="2" fill="#C0C0C0" />
<rect x="901" y="625" width="1" height="1" fill="#C0C0C0" />
<rect x="917" y="625" width="1" height="2" fill="#C0C0C0" />
<rect x="925" y="625" width="1" height="3" fill="#C0C0C0" />
<rect x="933" y="625" width="1" height="6" fill="#C0C0C0" />
<rect x="941" y="625" width="1" height="5" fill="#C0C0C0" />
<rect x="949" y="625" width="1" height="5" fill="#C0C0C0" />
<rect x="957" y="625" width="1" height="5" fill="#C0C0C0" />
<rect x="965" y="625" width="1" height="3" fill="#C0C0C0" />
<rect x="973" y="625" width="1" height="3" fill="#C0C0C0" />
<rect x="981" y="625" width="1" height="3" fill="#C0C0C0" />
<rect x="989" y="625" width="1" height="3" fill="#C0C0C0" />
<rect x="997" y="625" width="1" height="5" fill="#C0C0C0" />
<rect x="1005" y="625" width="1" height="5" fill="#C0C0C0" />
<rect x="1013" y="625" width="1" height="5" fill="#C0C0C0" />
<rect x="1021" y="625" width="1" height="5" fill="#C0C0C0" />
<rect x="1029" y="625" width="1" height="3" fill="#C0C0C0" />
<rect x="1037" y="625" width="1" height="3" fill="#C0C0C0" />
<rect x="1045" y="625" width="1" height="3" fill="#C0C0C0" />
<rect x="1053" y="625" width="1" height="3" fill="#C0C0C0" />
<rect x="1061" y="625" width="1" height="3" fill="#C0C0C0" />
<rect x="1069" y="625" width="1" height="3" fill="#C0C0C0" />
<rect x="1077" y="625" width="1" height="3" fill="#C0C0C0" />
<rect x="1085" y="625" width="1" height="3" fill="#C0C0C0" />
<rect x="1093" y="625" width="1" height="1" fill="#C0C0C0" />
<rect x="1101" y="625" width="1" height="1" fill="#C0C0C0" />
<rect x="1109" y="624" width="1" height="2" fill="#C0C0C0" />
<rect x="1117" y="618" width="1" height="8" fill="#C0C0C0" />
<rect x="1125" y="614" width="1" height="12" fill="#C0C0C0" />
<rect x="5" y="625" width="1" height="36" fill="#C0C0C0" />
</g>
<svg x="5" y="564" width="1415" height="102" overflow="hidden"><g transform="translate(-5,-564)">
<polyline points="5.5,651.9 13.5,653.5 21.5,655.5 29.5,656.9 37.5,657.9 45.5,657.5 53.5,656.5 61.5,655.5 69.5,654.9 77.5,654.6 85.5,654.9 93.5,655.2 101.5,655.4 109.5,655.4 117.5,655.4 125.5,654.7 133.5,653.6 141.5,651.9 149.5,649.8 157.5,647.2 165.5,644.6 173.5,642.3 181.5,640.4 189.5,638.9 197.5,638.4 205.5,638.3 213.5,638.8 221.5,639.9 229.5,641.4 237.5,643.4 245.5,645.5 253.5,647.4 261.5,648.8 269.5,649.6 277.5,650.2 285.5,650.2 293.5,649.4 301.5,648.2 309.5,646.7 317.5,645.2 325.5,643.7 333.5,642.3 341.5,641.0 349.5,639.8 357.5,638.9 365.5,638.4 373.5,637.9 381.5,637.2 389.5,636.4 397.5,635.5 405.5,634.5 413.5,633.6 421.5,632.7 429.5,631.8 437.5,630.7 445.5,629.9 453.5,629.4 461.5,628.9 469.5,628.6 477.5,628.4 485.5,628.4 493.5,628.4 501.5,628.4 509.5,628.5 517.5,628.7 525.5,628.9 533.5,629.0 541.5,629.1 549.5,629.0 557.5,628.8 565.5,628.3 573.5,627.6 581.5,626.9 589.5,626.0 597.5,625.0 605.5,624.0 613.5,622.8 621.5,621.2 629.5,619.4 637.5,617.3 645.5,614.6 653.5,611.2 661.5,607.1 669.5,602.7 677.5,597.7 685.5,592.7 693.5,588.1 701.5,583.7 709.5,579.9 717.5,576.8 725.5,574.9 733.5,574.0 741.5,573.8 749.5,574.2 757.5,575.2 765.5,576.5 773.5,578.4 781.5,580.3 789.5,582.5 797.5,584.4 805.5,586.1 813.5,587.8 821.5,589.5 829.5,591.4 837.5,593.3 845.5,594.9 853.5,596.7 861.5,598.6 869.5,600.7 877.5,603.4 885.5,606.4 893.5,609.6 901.5,612.6 909.5,615.4 917.5,618.3 925.5,621.1 933.5,623.7 941.5,625.8 949.5,627.2 957.5,628.2 965.5,628.6 973.5,629.0 981.5,629.3 989.5,629.4 997.5,629.6 1005.5,629.5 1013.5,629.5 1021.5,629.5 1029.5,629.4 1037.5,629.4 1045.5,629.4 1053.5,629.4 1061.5,629.3 1069.5,629.1 1077.5,628.9 1085.5,628.7 1093.5,628.3 1101.5,628.0 1109.5,627.6 1117.5,626.4 1125.5,624.9" fill="none" stroke="#FF0000" stroke-width="1" stroke-dasharray="3,3" shape-rendering="crispEdges"/>
</g></svg>
<text x="9" y="576" font-size="9.75" fill="#000" text-anchor="start" font-weight="normal" textLength="147" lengthAdjust="spacingAndGlyphs"  stroke="#000" stroke-width="0.2">MACD(12,26,9) 0.012203 0.001108</text>
<text x="1424" y="574" font-size="9.75" fill="#000" text-anchor="start" font-weight="normal" textLength="38" lengthAdjust="spacingAndGlyphs"  stroke="#000" stroke-width="0.2">0.060329</text>
<text x="1424" y="629" font-size="9.75" fill="#000" text-anchor="start" font-weight="normal" textLength="17.8" lengthAdjust="spacingAndGlyphs"  stroke="#000" stroke-width="0.2">0.00</text>
<text x="1424" y="663" font-size="9.75" fill="#000" text-anchor="start" font-weight="normal" textLength="40" lengthAdjust="spacingAndGlyphs"  stroke="#000" stroke-width="0.2">-0.040135</text>
<g shape-rendering="crispEdges">
<rect x="1421" y="625" width="2" height="1" fill="#000" />
</g>
<g shape-rendering="crispEdges">
<line x1="6" y1="708.5" x2="1420" y2="708.5" stroke="#C0C0C0" stroke-dasharray="3,3"/>
<line x1="6" y1="759.5" x2="1420" y2="759.5" stroke="#C0C0C0" stroke-dasharray="3,3"/>
</g>
<svg x="5" y="669" width="1415" height="129" overflow="hidden"><g transform="translate(-5,-669)">
<polyline points="5.5,755.5 13.5,744.8 21.5,745.8 29.5,741.1 37.5,746.9 45.5,744.8 53.5,754.9 61.5,754.9 69.5,755.5 77.5,763.6 85.5,762.6 93.5,744.6 101.5,739.1 109.5,742.8 117.5,739.1 125.5,736.0 133.5,735.6 141.5,731.9 149.5,739.7 157.5,735.6 165.5,737.0 173.5,739.1 181.5,739.1 189.5,746.9 197.5,752.4 205.5,748.9 213.5,753.4 221.5,756.9 229.5,756.9 237.5,759.1 245.5,752.4 253.5,742.8 261.5,745.8 269.5,746.9 277.5,742.5 285.5,735.6 293.5,737.0 301.5,737.0 309.5,743.8 317.5,745.8 325.5,738.1 333.5,740.7 341.5,738.1 349.5,739.1 357.5,749.7 365.5,739.1 373.5,734.0 381.5,738.1 389.5,734.4 397.5,729.9 405.5,729.9 413.5,735.6 421.5,735.6 429.5,734.0 437.5,739.1 445.5,738.1 453.5,740.7 461.5,735.6 469.5,735.6 477.5,735.6 485.5,731.9 493.5,740.7 501.5,741.8 509.5,737.0 517.5,750.8 525.5,738.5 533.5,734.4 541.5,729.5 549.5,726.8 557.5,722.7 565.5,726.8 573.5,726.8 581.5,726.8 589.5,730.3 597.5,723.7 605.5,728.9 613.5,712.5 621.5,710.5 629.5,708.4 637.5,701.6 645.5,700.2 653.5,692.0 661.5,696.7 669.5,696.7 677.5,694.1 685.5,692.6 693.5,697.5 701.5,700.8 709.5,698.8 717.5,703.3 725.5,709.4 733.5,711.5 741.5,709.4 749.5,707.4 757.5,705.7 765.5,707.4 773.5,716.0 781.5,714.5 789.5,712.5 797.5,712.5 805.5,709.0 813.5,709.0 821.5,720.1 829.5,718.6 837.5,717.6 845.5,717.0 853.5,718.6 861.5,737.7 869.5,739.1 877.5,750.8 885.5,747.3 893.5,742.6 901.5,739.1 909.5,739.1 917.5,743.8 925.5,745.2 933.5,749.3 941.5,737.0 949.5,737.0 957.5,740.5 965.5,730.9 973.5,734.0 981.5,731.9 989.5,740.5 997.5,739.1 1005.5,737.0 1013.5,739.7 1021.5,736.0 1029.5,737.7 1037.5,739.7 1045.5,735.0 1053.5,735.0 1061.5,734.0 1069.5,739.7 1077.5,740.7 1085.5,734.4 1093.5,728.3 1101.5,729.5 1109.5,719.7 1117.5,701.6 1125.5,707.8" fill="none" stroke="#1E90FF" stroke-width="1" shape-rendering="crispEdges"/>
</g></svg>
<text x="9" y="681" font-size="9.75" fill="#000" text-anchor="start" font-weight="normal" textLength="67.5" lengthAdjust="spacingAndGlyphs"  stroke="#000" stroke-width="0.2">RSI(14) 69.2590</text>
<text x="1424" y="679" font-size="9.75" fill="#000" text-anchor="start" font-weight="normal" textLength="15.3" lengthAdjust="spacingAndGlyphs"  stroke="#000" stroke-width="0.2">100</text>
<text x="1424" y="712" font-size="9.75" fill="#000" text-anchor="start" font-weight="normal" textLength="10.2" lengthAdjust="spacingAndGlyphs"  stroke="#000" stroke-width="0.2">70</text>
<text x="1424" y="763" font-size="9.75" fill="#000" text-anchor="start" font-weight="normal" textLength="10.2" lengthAdjust="spacingAndGlyphs"  stroke="#000" stroke-width="0.2">30</text>
<text x="1424" y="795" font-size="9.75" fill="#000" text-anchor="start" font-weight="normal" textLength="5.1" lengthAdjust="spacingAndGlyphs"  stroke="#000" stroke-width="0.2">0</text>
<polygon points="5,793 5,798 10,798" fill="#C0C0C0"/>
<g shape-rendering="crispEdges">
<rect x="5" y="799" width="1" height="3" fill="#000" />
<rect x="69" y="799" width="1" height="3" fill="#000" />
<rect x="133" y="799" width="1" height="3" fill="#000" />
<rect x="197" y="799" width="1" height="3" fill="#000" />
<rect x="261" y="799" width="1" height="3" fill="#000" />
<rect x="325" y="799" width="1" height="3" fill="#000" />
<rect x="389" y="799" width="1" height="3" fill="#000" />
<rect x="453" y="799" width="1" height="3" fill="#000" />
<rect x="517" y="799" width="1" height="3" fill="#000" />
<rect x="581" y="799" width="1" height="3" fill="#000" />
<rect x="645" y="799" width="1" height="3" fill="#000" />
<rect x="709" y="799" width="1" height="3" fill="#000" />
<rect x="773" y="799" width="1" height="3" fill="#000" />
<rect x="837" y="799" width="1" height="3" fill="#000" />
<rect x="901" y="799" width="1" height="3" fill="#000" />
<rect x="965" y="799" width="1" height="3" fill="#000" />
<rect x="1029" y="799" width="1" height="3" fill="#000" />
<rect x="1093" y="799" width="1" height="3" fill="#000" />
</g>
<text x="4" y="811" font-size="9.75" fill="#000" text-anchor="start" font-weight="normal" textLength="50.4" lengthAdjust="spacingAndGlyphs"  stroke="#000" stroke-width="0.2">17 Jan 2019</text>
<text x="68" y="811" font-size="9.75" fill="#000" text-anchor="start" font-weight="normal" textLength="50.4" lengthAdjust="spacingAndGlyphs"  stroke="#000" stroke-width="0.2">29 Jan 2019</text>
<text x="132" y="811" font-size="9.75" fill="#000" text-anchor="start" font-weight="normal" textLength="46.3" lengthAdjust="spacingAndGlyphs"  stroke="#000" stroke-width="0.2">8 Feb 2019</text>
<text x="196" y="811" font-size="9.75" fill="#000" text-anchor="start" font-weight="normal" textLength="51.4" lengthAdjust="spacingAndGlyphs"  stroke="#000" stroke-width="0.2">20 Feb 2019</text>
<text x="260" y="811" font-size="9.75" fill="#000" text-anchor="start" font-weight="normal" textLength="46.3" lengthAdjust="spacingAndGlyphs"  stroke="#000" stroke-width="0.2">4 Mar 2019</text>
<text x="324" y="811" font-size="9.75" fill="#000" text-anchor="start" font-weight="normal" textLength="51.4" lengthAdjust="spacingAndGlyphs"  stroke="#000" stroke-width="0.2">14 Mar 2019</text>
<text x="388" y="811" font-size="9.75" fill="#000" text-anchor="start" font-weight="normal" textLength="51.4" lengthAdjust="spacingAndGlyphs"  stroke="#000" stroke-width="0.2">26 Mar 2019</text>
<text x="452" y="811" font-size="9.75" fill="#000" text-anchor="start" font-weight="normal" textLength="44.3" lengthAdjust="spacingAndGlyphs"  stroke="#000" stroke-width="0.2">5 Apr 2019</text>
<text x="516" y="811" font-size="9.75" fill="#000" text-anchor="start" font-weight="normal" textLength="49.3" lengthAdjust="spacingAndGlyphs"  stroke="#000" stroke-width="0.2">17 Apr 2019</text>
<text x="580" y="811" font-size="9.75" fill="#000" text-anchor="start" font-weight="normal" textLength="49.3" lengthAdjust="spacingAndGlyphs"  stroke="#000" stroke-width="0.2">30 Apr 2019</text>
<text x="644" y="811" font-size="9.75" fill="#000" text-anchor="start" font-weight="normal" textLength="52.9" lengthAdjust="spacingAndGlyphs"  stroke="#000" stroke-width="0.2">10 May 2019</text>
<text x="708" y="811" font-size="9.75" fill="#000" text-anchor="start" font-weight="normal" textLength="52.9" lengthAdjust="spacingAndGlyphs"  stroke="#000" stroke-width="0.2">22 May 2019</text>
<text x="772" y="811" font-size="9.75" fill="#000" text-anchor="start" font-weight="normal" textLength="45.3" lengthAdjust="spacingAndGlyphs"  stroke="#000" stroke-width="0.2">3 Jun 2019</text>
<text x="836" y="811" font-size="9.75" fill="#000" text-anchor="start" font-weight="normal" textLength="50.4" lengthAdjust="spacingAndGlyphs"  stroke="#000" stroke-width="0.2">13 Jun 2019</text>
<text x="900" y="811" font-size="9.75" fill="#000" text-anchor="start" font-weight="normal" textLength="50.4" lengthAdjust="spacingAndGlyphs"  stroke="#000" stroke-width="0.2">25 Jun 2019</text>
<text x="964" y="811" font-size="9.75" fill="#000" text-anchor="start" font-weight="normal" textLength="42.2" lengthAdjust="spacingAndGlyphs"  stroke="#000" stroke-width="0.2">5 Jul 2019</text>
<text x="1028" y="811" font-size="9.75" fill="#000" text-anchor="start" font-weight="normal" textLength="47.3" lengthAdjust="spacingAndGlyphs"  stroke="#000" stroke-width="0.2">17 Jul 2019</text>
<text x="1092" y="811" font-size="9.75" fill="#000" text-anchor="start" font-weight="normal" textLength="47.3" lengthAdjust="spacingAndGlyphs"  stroke="#000" stroke-width="0.2">29 Jul 2019</text>
<g shape-rendering="crispEdges">
<rect x="0" y="819" width="1466" height="1" fill="#E3E3E3" />
<rect x="0" y="820" width="1466" height="1" fill="#FFFFFF" />
<rect x="0" y="821" width="1466" height="1" fill="#000" />
<rect x="0" y="822" width="1466" height="1" fill="#FFFFFF" />
<rect x="0" y="823" width="1466" height="18" fill="#F0F0F0" />
<rect x="0" y="841" width="1466" height="1" fill="#FFFFFF" />
<rect x="0" y="842" width="1466" height="3" fill="#F0F0F0" />
<rect x="0" y="821" width="1" height="20" fill="#A0A0A0" />
<rect x="1" y="822" width="1" height="19" fill="#696969" />
<rect x="437" y="821" width="1" height="19" fill="#FFFFFF" />
<rect x="438" y="821" width="112" height="19" fill="#000" />
<rect x="439" y="821" width="110" height="18" fill="#FFF" />
<rect x="114" y="824" width="1" height="14" fill="#606060" />
<rect x="222" y="824" width="1" height="14" fill="#606060" />
<rect x="330" y="824" width="1" height="14" fill="#606060" />
<rect x="670" y="824" width="1" height="14" fill="#606060" />
<rect x="794" y="824" width="1" height="14" fill="#606060" />
<rect x="890" y="824" width="1" height="14" fill="#606060" />
<rect x="970" y="824" width="1" height="14" fill="#606060" />
<rect x="1075" y="824" width="1" height="14" fill="#606060" />
</g>
<text x="17.2" y="836" font-size="12" fill="#6D6D6D" text-anchor="start" font-weight="normal" textLength="84.6" lengthAdjust="spacingAndGlyphs" >EURUSD-,Daily</text>
<text x="124.4" y="836" font-size="12" fill="#6D6D6D" text-anchor="start" font-weight="normal" textLength="86.5" lengthAdjust="spacingAndGlyphs" >AUDUSD-,Daily</text>
<text x="234.4" y="836" font-size="12" fill="#6D6D6D" text-anchor="start" font-weight="normal" textLength="83.6" lengthAdjust="spacingAndGlyphs" >USDCHF-,Daily</text>
<text x="341.6" y="836" font-size="12" fill="#6D6D6D" text-anchor="start" font-weight="normal" textLength="85.5" lengthAdjust="spacingAndGlyphs" >USDCAD-,Daily</text>
<text x="561" y="836" font-size="12" fill="#6D6D6D" text-anchor="start" font-weight="normal" textLength="96.9" lengthAdjust="spacingAndGlyphs" >EURCHF-,Weekly</text>
<text x="681.9" y="836" font-size="12" fill="#6D6D6D" text-anchor="start" font-weight="normal" textLength="100.1" lengthAdjust="spacingAndGlyphs" >XAUUSD-,Weekly</text>
<text x="804.9" y="836" font-size="12" fill="#6D6D6D" text-anchor="start" font-weight="normal" textLength="72.1" lengthAdjust="spacingAndGlyphs" >GBPUSD-,H1</text>
<text x="901" y="836" font-size="12" fill="#6D6D6D" text-anchor="start" font-weight="normal" textLength="56" lengthAdjust="spacingAndGlyphs" >UKOil-,H1</text>
<text x="980.2" y="836" font-size="12" fill="#6D6D6D" text-anchor="start" font-weight="normal" textLength="82.5" lengthAdjust="spacingAndGlyphs" >USDX-,Weekly</text>
<text x="450.7" y="836" font-size="12" fill="#000" text-anchor="start" font-weight="normal" textLength="87" lengthAdjust="spacingAndGlyphs" >USDCNH-,Daily</text>
<polygon points="1439.3,826.8 1435.8,830 1439.3,833.2" fill="#8A8A8A"/>
<polygon points="1455,826.8 1458.3,830 1455,833.2" fill="#8A8A8A"/>
<defs>
<linearGradient id="gh" x1="0" y1="0" x2="0" y2="1"><stop offset="0" stop-color="#5A5AFF"/><stop offset="1" stop-color="#2E2EDD"/></linearGradient>
<linearGradient id="gp" x1="0" y1="0" x2="0" y2="1"><stop offset="0" stop-color="#3A3AE6"/><stop offset="1" stop-color="#0000BE"/></linearGradient>
<linearGradient id="gpu" gradientUnits="userSpaceOnUse" x1="0" y1="67" x2="0" y2="105"><stop offset="0" stop-color="#3A3AE6"/><stop offset="1" stop-color="#0000BE"/></linearGradient>
<linearGradient id="gb" x1="0" y1="0" x2="0" y2="1"><stop offset="0" stop-color="#F4F4F4"/><stop offset="1" stop-color="#D4D4D4"/></linearGradient>
</defs>
<g shape-rendering="crispEdges">
<rect x="7" y="41" width="222" height="66" fill="#FFFFFF" />
<rect x="59" y="41" width="117" height="26" fill="#F0F0F0" />
<rect x="62" y="42" width="111" height="22" fill="#A8A8A8" />
<rect x="63" y="43" width="20" height="20" fill="url(#gb)" />
<rect x="83" y="43" width="1" height="20" fill="#B8B8B8" />
<rect x="84" y="43" width="67" height="20" fill="#FFFFFF" />
<rect x="151" y="43" width="1" height="20" fill="#B8B8B8" />
<rect x="152" y="43" width="20" height="20" fill="url(#gb)" />
<rect x="8" y="66" width="110" height="40" fill="#0000C0" />
<rect x="9" y="67" width="108" height="38" fill="url(#gp)" />
<rect x="119" y="66" width="108" height="40" fill="#0000C0" />
<rect x="120" y="67" width="106" height="38" fill="url(#gp)" />
<rect x="8" y="42" width="52" height="25" fill="#0000C0" />
<rect x="9" y="43" width="50" height="23" fill="url(#gh)" />
<rect x="9" y="66" width="50" height="1" fill="#3434E4" />
<rect x="12" y="65" width="45" height="1" fill="#000090" />
<rect x="12" y="66" width="45" height="1" fill="#7070FF" />
<rect x="175" y="42" width="52" height="25" fill="#0000C0" />
<rect x="176" y="43" width="50" height="23" fill="url(#gh)" />
<rect x="176" y="66" width="50" height="1" fill="#3434E4" />
<rect x="179" y="65" width="45" height="1" fill="#000090" />
<rect x="179" y="66" width="45" height="1" fill="#7070FF" />
</g>
<polygon points="70,51 75,51 72.5,54" fill="#6078C0"/>
<polygon points="159,54 164,54 161.5,51" fill="#6078C0"/>
<text x="147" y="57" font-size="12" fill="#000" text-anchor="end" font-weight="normal" textLength="22.6" lengthAdjust="spacingAndGlyphs" >1.00</text>
<text x="21" y="58" font-size="12" fill="#FFF" text-anchor="start" font-weight="normal" textLength="25" lengthAdjust="spacingAndGlyphs" >SELL</text>
<text x="189" y="58" font-size="12" fill="#FFF" text-anchor="start" font-weight="normal" textLength="23" lengthAdjust="spacingAndGlyphs" >BUY</text>
<text x="28" y="97" font-size="12" fill="#FFF" text-anchor="start" font-weight="bold" textLength="23" lengthAdjust="spacingAndGlyphs" >6.95</text>
<text x="55.5" y="97" font-size="34" fill="#FFF" text-anchor="start" font-weight="normal" textLength="34" lengthAdjust="spacingAndGlyphs" stroke="url(#gpu)" stroke-width="0.6">62</text>
<text x="95" y="81" font-size="12" fill="#FFF" text-anchor="start" font-weight="bold" textLength="7" lengthAdjust="spacingAndGlyphs" >0</text>
<text x="138" y="97" font-size="12" fill="#FFF" text-anchor="start" font-weight="bold" textLength="23" lengthAdjust="spacingAndGlyphs" >6.95</text>
<text x="166" y="97" font-size="34" fill="#FFF" text-anchor="start" font-weight="normal" textLength="35" lengthAdjust="spacingAndGlyphs" stroke="url(#gpu)" stroke-width="0.6">85</text>
<text x="206" y="81" font-size="12" fill="#FFF" text-anchor="start" font-weight="bold" textLength="7" lengthAdjust="spacingAndGlyphs" >0</text>
</svg>
</body></html>
